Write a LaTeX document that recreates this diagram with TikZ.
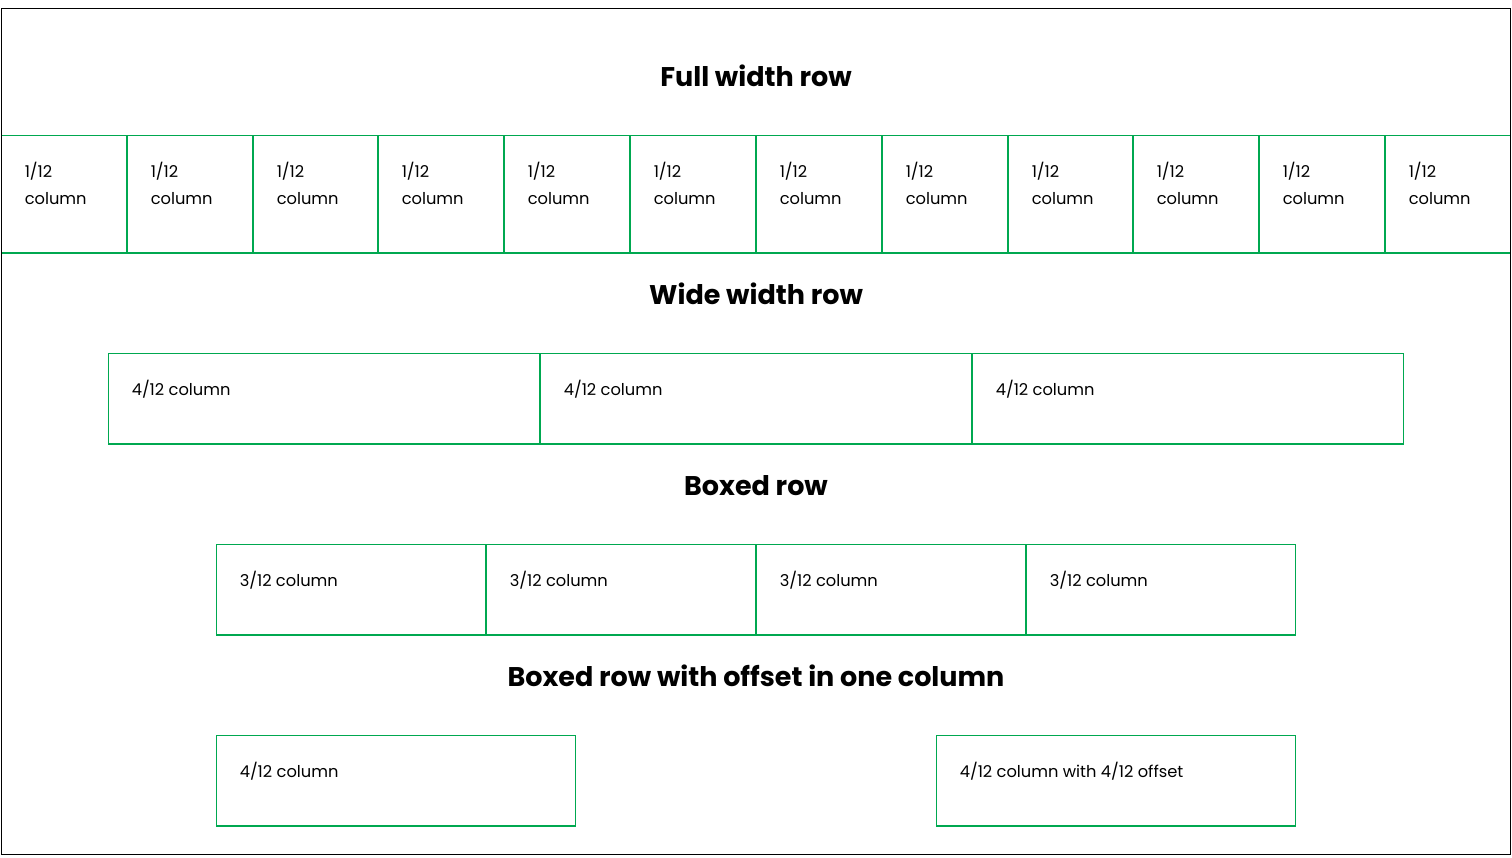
\documentclass[tikz,border=0pt]{standalone}
\usepackage{fontspec}
\setmainfont{Poppins}
\definecolor{gridgreen}{RGB}{0,168,80}
\tikzset{
  cell/.style={draw=gridgreen, line width=0.9pt, anchor=north west, inner sep=0pt, outer sep=0pt},
  celltext/.style={anchor=base west, inner sep=0pt, font=\fontsize{12.2}{20.25}\selectfont, align=left},
  rowtitle/.style={anchor=base, inner sep=0pt, font=\fontsize{20.25}{24}\selectfont\bfseries},
}
% column cell from pixel column #2 to #3 (exclusive), top #4, height #5
\newcommand{\gridcell}[5]{%
  \node[cell, minimum width={(#3-#2-1)*0.75pt}, minimum height={#5*0.75pt}]
    (#1) at (#2+0.5,#4) {};}
\begin{document}
\begin{tikzpicture}[x=0.75pt, y=-0.75pt]
  \useasboundingbox (0,0) rectangle (1512,857);
  \fill[white] (0,0) rectangle (1512,857);

  % Full width row: twelve 1/12 columns
  \node[rowtitle] (t1) at (756,86) {Full width row};
  \foreach \l/\r [count=\i] in {1/127,127/253,253/378,378/504,504/630,630/756,
      756/882,882/1008,1008/1133,1133/1259,1259/1385,1385/1511} {
    \gridcell{f\i}{\l}{\r}{135.5}{117.5}
    \node[celltext] (ft\i) at ([shift={(23,69)}]f\i.north west) {1/12\\column};
  }

  % Wide width row: three 4/12 columns
  \node[rowtitle] (t2) at (756,304) {Wide width row};
  \foreach \l/\r [count=\i] in {108/540,540/972,972/1404} {
    \gridcell{w\i}{\l}{\r}{353.5}{90.5}
    \node[celltext] (wt\i) at ([shift={(23,42)}]w\i.north west) {4/12 column};
  }

  % Boxed row: four 3/12 columns
  \node[rowtitle] (t3) at (756,495) {Boxed row};
  \foreach \l/\r [count=\i] in {216/486,486/756,756/1026,1026/1296} {
    \gridcell{b\i}{\l}{\r}{544.5}{90.5}
    \node[celltext] (bt\i) at ([shift={(23,42)}]b\i.north west) {3/12 column};
  }

  % Boxed row with an offset column
  \node[rowtitle] (t4) at (756,686) {Boxed row with offset in one column};
  \gridcell{o1}{216}{576}{735.5}{90.5}
  \node[celltext] (ot1) at ([shift={(23,42)}]o1.north west) {4/12 column};
  \gridcell{o2}{936}{1296}{735.5}{90.5}
  \node[celltext] (ot2) at ([shift={(23,42)}]o2.north west) {4/12 column with 4/12 offset};

  % Outer frame
  \draw[black, line width=0.9pt] (1.5,8.5) rectangle (1510.5,854.5);
\end{tikzpicture}
\end{document}
